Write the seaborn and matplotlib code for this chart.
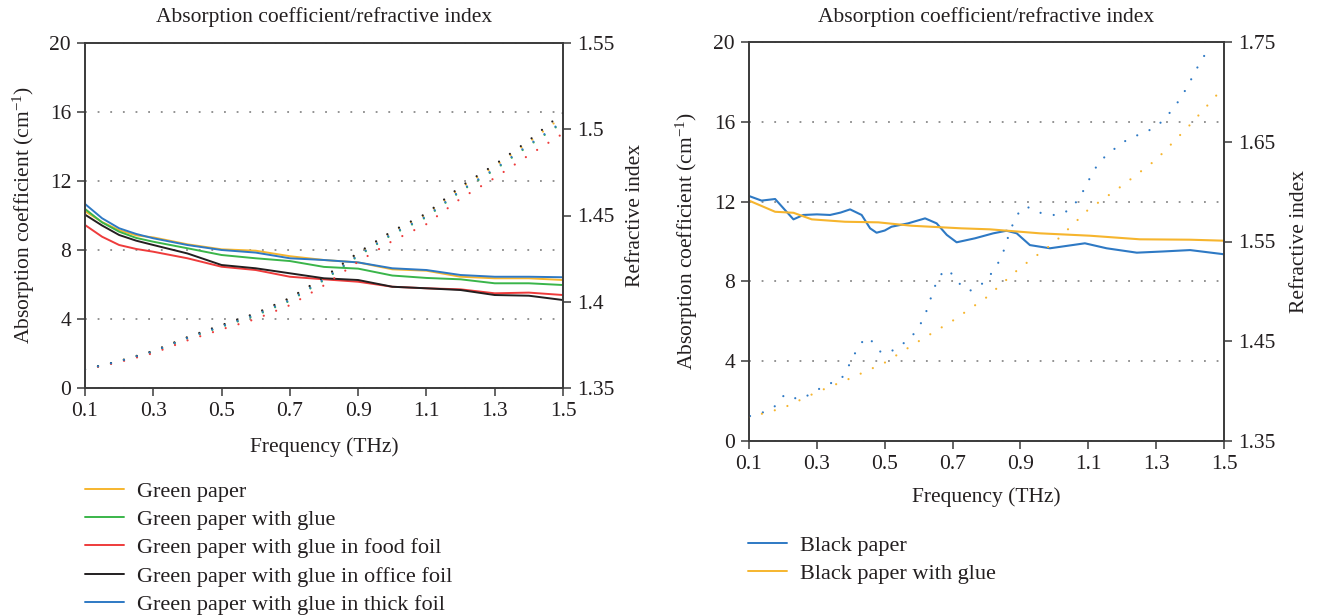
import matplotlib
matplotlib.use("Agg")
import matplotlib.pyplot as plt
import seaborn as sns
import pandas as pd
from matplotlib.lines import Line2D

# ---------------- Left panel data ----------------
freq_abs_left = [0.10, 0.15, 0.20, 0.25, 0.30, 0.40, 0.50, 0.60, 0.70, 0.80,
                 0.90, 1.00, 1.10, 1.20, 1.30, 1.40, 1.50]
abs_green_paper = [10.25, 9.62, 9.15, 8.85, 8.73, 8.33, 8.04, 7.96, 7.64, 7.42,
                   7.28, 6.88, 6.80, 6.45, 6.36, 6.36, 6.26]
abs_green_glue = [10.38, 9.60, 9.06, 8.70, 8.48, 8.10, 7.71, 7.52, 7.36, 7.02,
                  6.92, 6.52, 6.38, 6.30, 6.07, 6.07, 5.97]
abs_green_food = [9.45, 8.77, 8.29, 8.06, 7.90, 7.52, 7.03, 6.84, 6.45, 6.30,
                  6.16, 5.87, 5.78, 5.72, 5.49, 5.53, 5.39]
abs_green_office = [10.05, 9.42, 8.87, 8.54, 8.29, 7.80, 7.13, 6.94, 6.65, 6.36,
                    6.26, 5.87, 5.78, 5.68, 5.39, 5.35, 5.10]
abs_green_thick = [10.67, 9.84, 9.26, 8.93, 8.68, 8.29, 8.00, 7.85, 7.52, 7.42,
                   7.28, 6.94, 6.84, 6.55, 6.45, 6.45, 6.42]

freq_ri_left = [0.1, 0.2, 0.3, 0.4, 0.5, 0.6, 0.7, 0.8, 0.9, 1.0, 1.1, 1.2, 1.3, 1.4, 1.5]
ri_green_paper = [1.3608, 1.3656, 1.3714, 1.3793, 1.3862, 1.3930, 1.4018, 1.4138,
                  1.4280, 1.4405, 1.4505, 1.4660, 1.4785, 1.4925, 1.5075]
ri_green_glue = [1.3608, 1.3655, 1.3710, 1.3788, 1.3855, 1.3920, 1.4005, 1.4125,
                 1.4265, 1.4390, 1.4490, 1.4640, 1.4765, 1.4905, 1.5040]
ri_green_food = [1.3606, 1.3650, 1.3702, 1.3776, 1.3840, 1.3900, 1.3980, 1.4095,
                 1.4232, 1.4352, 1.4450, 1.4598, 1.4718, 1.4850, 1.4975]
ri_green_office = [1.3608, 1.3656, 1.3715, 1.3795, 1.3865, 1.3933, 1.4022, 1.4142,
                   1.4285, 1.4410, 1.4512, 1.4668, 1.4795, 1.4935, 1.5095]
ri_green_thick = [1.3608, 1.3655, 1.3712, 1.3790, 1.3858, 1.3925, 1.4010, 1.4130,
                  1.4270, 1.4395, 1.4495, 1.4645, 1.4770, 1.4910, 1.5045]

left_labels = ["Green paper", "Green paper with glue", "Green paper with glue in food foil",
               "Green paper with glue in office foil", "Green paper with glue in thick foil"]
left_colors = ["#F6B52E", "#3AB54A", "#EE3B3B", "#231F20", "#2E79C4"]

# ---------------- Right panel data ----------------
freq_abs_black = [0.10, 0.137, 0.177, 0.206, 0.231, 0.26, 0.30, 0.339, 0.37, 0.398,
                  0.432, 0.457, 0.476, 0.50, 0.52, 0.569, 0.619, 0.653, 0.683, 0.712,
                  0.766, 0.82, 0.859, 0.889, 0.928, 0.987, 1.09, 1.154, 1.243, 1.32,
                  1.40, 1.50]
abs_black_paper = [12.28, 12.05, 12.13, 11.58, 11.11, 11.33, 11.36, 11.33, 11.45, 11.61,
                   11.33, 10.66, 10.44, 10.55, 10.74, 10.91, 11.16, 10.91, 10.33, 9.96,
                   10.16, 10.41, 10.54, 10.41, 9.82, 9.66, 9.91, 9.66, 9.44, 9.50,
                   9.57, 9.36]
freq_abs_black_glue = [0.10, 0.177, 0.231, 0.285, 0.383, 0.481, 0.579, 0.726, 0.81,
                       0.957, 1.105, 1.252, 1.40, 1.50]
abs_black_glue = [12.05, 11.49, 11.44, 11.11, 10.99, 10.96, 10.79, 10.66, 10.61,
                  10.41, 10.29, 10.11, 10.09, 10.04]

freq_ri_black = [0.103, 0.142, 0.177, 0.19, 0.204, 0.224, 0.24, 0.26, 0.294, 0.334,
                 0.371, 0.383, 0.40, 0.42, 0.444, 0.461, 0.473, 0.489, 0.509, 0.542,
                 0.575, 0.599, 0.619, 0.639, 0.653, 0.675, 0.692, 0.705, 0.731, 0.751,
                 0.773, 0.80, 0.825, 0.845, 0.864, 0.884, 0.899, 0.913, 0.933, 0.953,
                 0.972, 0.992, 1.012, 1.031, 1.046, 1.061, 1.084, 1.112, 1.134, 1.164,
                 1.196, 1.233, 1.272, 1.306, 1.321, 1.349, 1.373, 1.395, 1.412, 1.431,
                 1.454]
ri_black_paper = [1.375, 1.3788, 1.385, 1.391, 1.396, 1.396, 1.392, 1.393, 1.400, 1.407,
                  1.412, 1.418, 1.4295, 1.443, 1.454, 1.4505, 1.4445, 1.439, 1.438, 1.4445,
                  1.453, 1.463, 1.4763, 1.4964, 1.5097, 1.5214, 1.520, 1.514, 1.5036, 1.5007,
                  1.5037, 1.5114, 1.523, 1.5348, 1.5548, 1.5733, 1.5806, 1.585, 1.5833, 1.5793,
                  1.5776, 1.5766, 1.5766, 1.579, 1.5833, 1.588, 1.600, 1.6184, 1.6307, 1.639,
                  1.6484, 1.655, 1.660, 1.6668, 1.6718, 1.6825, 1.6942, 1.7069, 1.7186, 1.7302,
                  1.743]
freq_ri_black_glue = [0.1, 0.2, 0.3, 0.4, 0.5, 0.6, 0.7, 0.8, 0.9, 1.0, 1.1, 1.2, 1.3, 1.4, 1.5]
ri_black_glue = [1.3738, 1.383, 1.399, 1.413, 1.4285, 1.450, 1.4705, 1.494, 1.524,
                 1.549, 1.582, 1.606, 1.632, 1.667, 1.705]

right_labels = ["Black paper", "Black paper with glue"]
right_colors = ["#2E79C4", "#F6B52E"]

x_ticks = [0.1, 0.3, 0.5, 0.7, 0.9, 1.1, 1.3, 1.5]
abs_ticks = [0, 4, 8, 12, 16, 20]
ri_ticks_left = [1.35, 1.40, 1.45, 1.50, 1.55]
ri_ticklabels_left = ["1.35", "1.4", "1.45", "1.5", "1.55"]
ri_ticks_right = [1.35, 1.45, 1.55, 1.65, 1.75]
ri_ticklabels_right = ["1.35", "1.45", "1.55", "1.65", "1.75"]

title_text = "Absorption coefficient/refractive index"
xlabel_text = "Frequency (THz)"
ylabel_abs = "Absorption coefficient (cm$^{-1}$)"
ylabel_ri = "Refractive index"

# ---------------- Style ----------------
sns.set_style("ticks")
plt.rcParams["font.family"] = ["Liberation Serif", "DejaVu Serif"]
plt.rcParams["mathtext.fontset"] = "custom"
plt.rcParams["mathtext.rm"] = "Liberation Serif"
plt.rcParams["mathtext.it"] = "Liberation Serif:italic"
plt.rcParams["mathtext.bf"] = "Liberation Serif:bold"

FS = 15.5
LFS = 16
TXT = "#231F20"
SPINE = "#3a3a3a"
DOT = (0, (0.01, 6.0))
DOT_LW = 1.6

W, H = 1321, 615
fig = plt.figure(figsize=(W / 100, H / 100), dpi=100)
ax1 = fig.add_axes([85 / W, 1 - 388 / H, 478 / W, 345 / H])
ax1r = ax1.twinx()
ax2 = fig.add_axes([749 / W, 1 - 441 / H, 475 / W, 399 / H])
ax2r = ax2.twinx()

left_abs = [abs_green_paper, abs_green_glue, abs_green_food, abs_green_office, abs_green_thick]
left_ri = [ri_green_paper, ri_green_glue, ri_green_food, ri_green_office, ri_green_thick]
for vals, col in zip(left_abs, left_colors):
    sns.lineplot(x=freq_abs_left, y=vals, ax=ax1, color=col, lw=1.4, legend=False)
for vals, col in zip(left_ri, left_colors):
    sns.lineplot(x=freq_ri_left, y=vals, ax=ax1r, color=col, lw=DOT_LW,
                 linestyle=DOT, dash_capstyle="round", legend=False)

sns.lineplot(x=freq_abs_black, y=abs_black_paper, ax=ax2, color=right_colors[0], lw=1.5, legend=False)
sns.lineplot(x=freq_abs_black_glue, y=abs_black_glue, ax=ax2, color=right_colors[1], lw=1.5, legend=False)
sns.lineplot(x=freq_ri_black, y=ri_black_paper, ax=ax2r, color=right_colors[0], lw=DOT_LW,
             linestyle=DOT, dash_capstyle="round", legend=False)
sns.lineplot(x=freq_ri_black_glue, y=ri_black_glue, ax=ax2r, color=right_colors[1], lw=DOT_LW,
             linestyle=DOT, dash_capstyle="round", legend=False)


def style(ax, axr, ri_ticks, ri_labels, title_y, xlabel_y, ylx, yrx):
    ax.set_xlim(0.1, 1.5)
    ax.set_ylim(0, 20)
    axr.set_ylim(ri_ticks[0], ri_ticks[-1])
    ax.set_xticks(x_ticks)
    ax.set_xticklabels([f"{t:.1f}" for t in x_ticks])
    ax.set_yticks(abs_ticks)
    ax.set_yticklabels([str(t) for t in abs_ticks])
    axr.set_yticks(ri_ticks)
    axr.set_yticklabels(ri_labels)
    ax.yaxis.grid(True, linestyle=(0, (1, 6)), color="#8a8a8a", lw=1.3)
    ax.xaxis.grid(False)
    for a in (ax, axr):
        for s in a.spines.values():
            s.set_visible(True)
            s.set_color(SPINE)
            s.set_linewidth(1.2)
        a.tick_params(direction="out", length=6, width=1.1, color=SPINE,
                      labelsize=FS, labelcolor=TXT, pad=4)
    ax.set_xlabel(xlabel_text, fontsize=FS, color=TXT)
    ax.set_ylabel(ylabel_abs, fontsize=FS, color=TXT)
    axr.set_ylabel(ylabel_ri, fontsize=FS, color=TXT)
    ax.xaxis.set_label_coords(0.5, xlabel_y)
    ax.yaxis.set_label_coords(ylx, 0.5)
    axr.yaxis.set_label_coords(yrx, 0.5)
    ax.xaxis.label.set_va("center")
    ax.yaxis.label.set_va("center")
    axr.yaxis.label.set_va("center")
    ax.text(0.5, title_y, title_text, transform=ax.transAxes, ha="center",
            va="center", fontsize=FS, color=TXT)


style(ax1, ax1r, ri_ticks_left, ri_ticklabels_left, (388 - 17) / 345, (388 - 447) / 345,
      (24 - 85) / 478, (635 - 85) / 478)
style(ax2, ax2r, ri_ticks_right, ri_ticklabels_right, (441 - 17) / 399, (441 - 497) / 399,
      (687 - 749) / 475, (1300 - 749) / 475)

h_left = [Line2D([], [], color=c, lw=1.4) for c in left_colors]
fig.legend(h_left, left_labels, loc="upper left", bbox_to_anchor=(85 / W, 1 - 481 / H),
           frameon=False, fontsize=LFS, handlelength=1.75, handletextpad=0.6,
           labelspacing=0.35, borderpad=0, borderaxespad=0, labelcolor=TXT)
h_right = [Line2D([], [], color=c, lw=1.4) for c in right_colors]
fig.legend(h_right, right_labels, loc="upper left", bbox_to_anchor=(748 / W, 1 - 535 / H),
           frameon=False, fontsize=LFS, handlelength=1.75, handletextpad=0.6,
           labelspacing=0.35, borderpad=0, borderaxespad=0, labelcolor=TXT)

fig.savefig("out.png", dpi=100)
